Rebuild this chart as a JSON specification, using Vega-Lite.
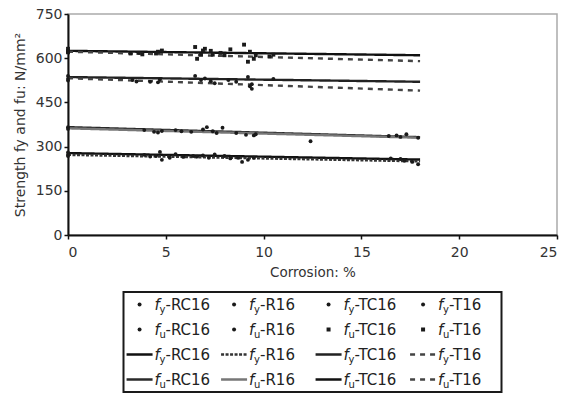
{
  "$schema": "https://vega.github.io/schema/vega-lite/v6.json",
  "padding": {"left": 12, "top": 6, "right": 0, "bottom": 0},
  "background": "white",
  "config": {
    "font": "DejaVu Sans",
    "view": {"stroke": "#aaaaaa", "strokeWidth": 1.5},
    "axis": {"labelColor": "#333333", "titleColor": "#333333", "labelFont": "DejaVu Sans", "titleFont": "DejaVu Sans", "labelFontSize": 14, "titleFontSize": 14, "titleFontWeight": "normal", "domainColor": "#111111", "domainWidth": 2, "tickColor": "#111111", "tickWidth": 1.5, "tickSize": 4, "grid": false}
  },
  "datasets": {
    "points": [
      {"series": "fy-RC16", "corrosion": 0, "strength": 280}, {"series": "fy-RC16", "corrosion": 0, "strength": 268},
      {"series": "fy-RC16", "corrosion": 3.9, "strength": 272}, {"series": "fy-RC16", "corrosion": 4.5, "strength": 268},
      {"series": "fy-RC16", "corrosion": 4.7, "strength": 282}, {"series": "fy-RC16", "corrosion": 4.8, "strength": 255},
      {"series": "fy-RC16", "corrosion": 5.5, "strength": 274}, {"series": "fy-RC16", "corrosion": 5.9, "strength": 265},
      {"series": "fy-RC16", "corrosion": 6.4, "strength": 268}, {"series": "fy-RC16", "corrosion": 6.9, "strength": 270},
      {"series": "fy-RC16", "corrosion": 7.5, "strength": 273}, {"series": "fy-RC16", "corrosion": 8.0, "strength": 268},
      {"series": "fy-RC16", "corrosion": 8.7, "strength": 262}, {"series": "fy-RC16", "corrosion": 8.9, "strength": 248},
      {"series": "fy-RC16", "corrosion": 9.5, "strength": 262}, {"series": "fy-RC16", "corrosion": 16.5, "strength": 260},
      {"series": "fy-RC16", "corrosion": 17.2, "strength": 252}, {"series": "fy-RC16", "corrosion": 17.6, "strength": 248},
      {"series": "fy-RC16", "corrosion": 17.9, "strength": 240},
      {"series": "fy-R16", "corrosion": 0, "strength": 272}, {"series": "fy-R16", "corrosion": 4.2, "strength": 266},
      {"series": "fy-R16", "corrosion": 5.2, "strength": 262}, {"series": "fy-R16", "corrosion": 6.6, "strength": 266},
      {"series": "fy-R16", "corrosion": 7.2, "strength": 262}, {"series": "fy-R16", "corrosion": 8.3, "strength": 260},
      {"series": "fy-R16", "corrosion": 9.2, "strength": 255}, {"series": "fy-R16", "corrosion": 17.0, "strength": 258},
      {"series": "fu-RC16", "corrosion": 0, "strength": 366}, {"series": "fu-RC16", "corrosion": 3.9, "strength": 356},
      {"series": "fu-RC16", "corrosion": 4.4, "strength": 350}, {"series": "fu-RC16", "corrosion": 4.8, "strength": 353},
      {"series": "fu-RC16", "corrosion": 5.5, "strength": 356}, {"series": "fu-RC16", "corrosion": 5.8, "strength": 352},
      {"series": "fu-RC16", "corrosion": 6.9, "strength": 358}, {"series": "fu-RC16", "corrosion": 7.1, "strength": 366},
      {"series": "fu-RC16", "corrosion": 7.4, "strength": 352}, {"series": "fu-RC16", "corrosion": 7.9, "strength": 364},
      {"series": "fu-RC16", "corrosion": 8.6, "strength": 346}, {"series": "fu-RC16", "corrosion": 9.1, "strength": 340},
      {"series": "fu-RC16", "corrosion": 9.5, "strength": 338}, {"series": "fu-RC16", "corrosion": 12.4, "strength": 318},
      {"series": "fu-RC16", "corrosion": 16.8, "strength": 338}, {"series": "fu-RC16", "corrosion": 17.3, "strength": 342},
      {"series": "fu-RC16", "corrosion": 17.9, "strength": 330},
      {"series": "fu-R16", "corrosion": 0, "strength": 360}, {"series": "fu-R16", "corrosion": 4.6, "strength": 348},
      {"series": "fu-R16", "corrosion": 6.3, "strength": 350}, {"series": "fu-R16", "corrosion": 7.6, "strength": 346},
      {"series": "fu-R16", "corrosion": 9.6, "strength": 342}, {"series": "fu-R16", "corrosion": 16.4, "strength": 336},
      {"series": "fu-R16", "corrosion": 17.0, "strength": 333},
      {"series": "fy-TC16", "corrosion": 0, "strength": 540}, {"series": "fy-TC16", "corrosion": 0, "strength": 524},
      {"series": "fy-TC16", "corrosion": 3.3, "strength": 526}, {"series": "fy-TC16", "corrosion": 4.2, "strength": 520},
      {"series": "fy-TC16", "corrosion": 4.7, "strength": 528}, {"series": "fy-TC16", "corrosion": 6.5, "strength": 540},
      {"series": "fy-TC16", "corrosion": 7.0, "strength": 531}, {"series": "fy-TC16", "corrosion": 7.3, "strength": 522},
      {"series": "fy-TC16", "corrosion": 8.2, "strength": 526}, {"series": "fy-TC16", "corrosion": 9.2, "strength": 536},
      {"series": "fy-TC16", "corrosion": 9.4, "strength": 512}, {"series": "fy-TC16", "corrosion": 10.5, "strength": 530},
      {"series": "fy-T16", "corrosion": 0, "strength": 530}, {"series": "fy-T16", "corrosion": 3.5, "strength": 521},
      {"series": "fy-T16", "corrosion": 4.6, "strength": 518}, {"series": "fy-T16", "corrosion": 6.8, "strength": 526},
      {"series": "fy-T16", "corrosion": 7.5, "strength": 515}, {"series": "fy-T16", "corrosion": 8.6, "strength": 520},
      {"series": "fy-T16", "corrosion": 9.3, "strength": 505}, {"series": "fy-T16", "corrosion": 9.4, "strength": 496},
      {"series": "fu-TC16", "corrosion": 0, "strength": 632}, {"series": "fu-TC16", "corrosion": 0, "strength": 620},
      {"series": "fu-TC16", "corrosion": 3.2, "strength": 616}, {"series": "fu-TC16", "corrosion": 3.6, "strength": 618},
      {"series": "fu-TC16", "corrosion": 4.6, "strength": 622}, {"series": "fu-TC16", "corrosion": 4.8, "strength": 626},
      {"series": "fu-TC16", "corrosion": 6.5, "strength": 638}, {"series": "fu-TC16", "corrosion": 6.8, "strength": 612},
      {"series": "fu-TC16", "corrosion": 7.0, "strength": 632}, {"series": "fu-TC16", "corrosion": 7.3, "strength": 625},
      {"series": "fu-TC16", "corrosion": 7.8, "strength": 618}, {"series": "fu-TC16", "corrosion": 8.3, "strength": 630},
      {"series": "fu-TC16", "corrosion": 9.0, "strength": 646}, {"series": "fu-TC16", "corrosion": 9.3, "strength": 622},
      {"series": "fu-TC16", "corrosion": 9.5, "strength": 598}, {"series": "fu-TC16", "corrosion": 10.5, "strength": 612},
      {"series": "fu-T16", "corrosion": 0, "strength": 624}, {"series": "fu-T16", "corrosion": 3.8, "strength": 613},
      {"series": "fu-T16", "corrosion": 4.5, "strength": 616}, {"series": "fu-T16", "corrosion": 6.6, "strength": 598},
      {"series": "fu-T16", "corrosion": 6.9, "strength": 626}, {"series": "fu-T16", "corrosion": 7.4, "strength": 612},
      {"series": "fu-T16", "corrosion": 8.0, "strength": 610}, {"series": "fu-T16", "corrosion": 9.2, "strength": 588},
      {"series": "fu-T16", "corrosion": 9.6, "strength": 610}, {"series": "fu-T16", "corrosion": 10.3, "strength": 606}
    ],
    "lines": [
      {"line": "fy-RC16", "corrosion": 0, "strength": 278}, {"line": "fy-RC16", "corrosion": 18, "strength": 256},
      {"line": "fy-R16", "corrosion": 0, "strength": 272}, {"line": "fy-R16", "corrosion": 18, "strength": 250},
      {"line": "fy-TC16", "corrosion": 0, "strength": 536}, {"line": "fy-TC16", "corrosion": 18, "strength": 520},
      {"line": "fy-T16", "corrosion": 0, "strength": 532}, {"line": "fy-T16", "corrosion": 18, "strength": 490},
      {"line": "fu-RC16", "corrosion": 0, "strength": 366}, {"line": "fu-RC16", "corrosion": 18, "strength": 332},
      {"line": "fu-R16", "corrosion": 0, "strength": 362}, {"line": "fu-R16", "corrosion": 18, "strength": 330},
      {"line": "fu-TC16", "corrosion": 0, "strength": 625}, {"line": "fu-TC16", "corrosion": 18, "strength": 610},
      {"line": "fu-T16", "corrosion": 0, "strength": 622}, {"line": "fu-T16", "corrosion": 18, "strength": 590}
    ],
    "legend": [
      {"kind": "point", "series": "fy-RC16", "col": 0, "row": 0, "sub": "y", "name": "-RC16"},
      {"kind": "point", "series": "fy-R16", "col": 1, "row": 0, "sub": "y", "name": "-R16"},
      {"kind": "point", "series": "fy-TC16", "col": 2, "row": 0, "sub": "y", "name": "-TC16"},
      {"kind": "point", "series": "fy-T16", "col": 3, "row": 0, "sub": "y", "name": "-T16"},
      {"kind": "point", "series": "fu-RC16", "col": 0, "row": 1, "sub": "u", "name": "-RC16"},
      {"kind": "point", "series": "fu-R16", "col": 1, "row": 1, "sub": "u", "name": "-R16"},
      {"kind": "point", "series": "fu-TC16", "col": 2, "row": 1, "sub": "u", "name": "-TC16"},
      {"kind": "point", "series": "fu-T16", "col": 3, "row": 1, "sub": "u", "name": "-T16"},
      {"kind": "line", "line": "fy-RC16", "col": 0, "row": 2, "sub": "y", "name": "-RC16"},
      {"kind": "line", "line": "fy-R16", "col": 1, "row": 2, "sub": "y", "name": "-R16"},
      {"kind": "line", "line": "fy-TC16", "col": 2, "row": 2, "sub": "y", "name": "-TC16"},
      {"kind": "line", "line": "fy-T16", "col": 3, "row": 2, "sub": "y", "name": "-T16"},
      {"kind": "line", "line": "fu-RC16", "col": 0, "row": 3, "sub": "u", "name": "-RC16"},
      {"kind": "line", "line": "fu-R16", "col": 1, "row": 3, "sub": "u", "name": "-R16"},
      {"kind": "line", "line": "fu-TC16", "col": 2, "row": 3, "sub": "u", "name": "-TC16"},
      {"kind": "line", "line": "fu-T16", "col": 3, "row": 3, "sub": "u", "name": "-T16"}
    ]
  },
  "vconcat": [
    {
      "width": 489,
      "height": 221,
      "encoding": {
        "x": {"field": "corrosion", "type": "quantitative", "scale": {"domain": [0, 25], "nice": false}, "axis": {"values": [0, 5, 10, 15, 20, 25], "title": "Corrosion: %", "titleFontSize": 13.5, "labelPadding": 6, "titlePadding": 6}},
        "y": {"field": "strength", "type": "quantitative", "scale": {"domain": [0, 750], "nice": false}, "axis": {"values": [0, 150, 300, 450, 600, 750], "title": "Strength fy and fu: N/mm²", "labelPadding": 2, "titlePadding": 8}}
      },
      "layer": [
        {
          "data": {"name": "lines"},
          "mark": {"type": "line"},
          "encoding": {
            "detail": {"field": "line"},
            "color": {"field": "line", "type": "nominal", "legend": null, "scale": {"domain": ["fy-RC16", "fy-R16", "fy-TC16", "fy-T16", "fu-RC16", "fu-R16", "fu-TC16", "fu-T16"], "range": ["#111111", "#333333", "#222222", "#444444", "#2a2a2a", "#777777", "#111111", "#444444"]}},
            "strokeDash": {"field": "line", "type": "nominal", "legend": null, "scale": {"domain": ["fy-RC16", "fy-R16", "fy-TC16", "fy-T16", "fu-RC16", "fu-R16", "fu-TC16", "fu-T16"], "range": [[1, 0], [3, 1.5], [1, 0], [5, 5], [1, 0], [1, 0], [1, 0], [5, 5]]}},
            "strokeWidth": {"field": "line", "type": "nominal", "legend": null, "scale": {"domain": ["fy-RC16", "fy-R16", "fy-TC16", "fy-T16", "fu-RC16", "fu-R16", "fu-TC16", "fu-T16"], "range": [2.4, 2.4, 1.6, 2, 1.8, 1.4, 2.2, 2]}}
          }
        },
        {
          "data": {"name": "points"},
          "mark": {"type": "point", "filled": true, "color": "#1a1a1a", "opacity": 1, "size": 15},
          "encoding": {
            "shape": {"field": "series", "type": "nominal", "legend": null, "scale": {"domain": ["fy-RC16", "fy-R16", "fy-TC16", "fy-T16", "fu-RC16", "fu-R16", "fu-TC16", "fu-T16"], "range": ["circle", "circle", "circle", "circle", "circle", "circle", "square", "square"]}}
          }
        }
      ]
    },
    {
      "width": 378,
      "height": 100,
      "view": {"stroke": "#1a1a1a", "strokeWidth": 2},
      "data": {"name": "legend"},
      "encoding": {
        "y": {"field": "row", "type": "ordinal", "axis": null, "scale": {"type": "band", "domain": [0, 1, 2, 3], "paddingInner": 0, "paddingOuter": 0}}
      },
      "layer": [
        {
          "transform": [{"filter": "datum.kind === 'point'"}],
          "mark": {"type": "point", "filled": true, "color": "#1a1a1a", "opacity": 1, "size": 16},
          "encoding": {
            "x": {"field": "col", "type": "ordinal", "bandPosition": 0.17, "axis": null, "scale": {"type": "band", "domain": [0, 1, 2, 3], "paddingInner": 0, "paddingOuter": 0}},
            "shape": {"field": "series", "type": "nominal", "legend": null}
          }
        },
        {
          "transform": [{"filter": "datum.kind === 'line'"}],
          "mark": {"type": "point", "filled": false, "opacity": 1, "shape": "M-1,0L1,0", "size": 676},
          "encoding": {
            "x": {"field": "col", "type": "ordinal", "bandPosition": 0.17, "axis": null},
            "color": {"field": "line", "type": "nominal", "legend": null},
            "strokeDash": {"field": "line", "type": "nominal", "legend": null},
            "strokeWidth": {"field": "line", "type": "nominal", "legend": null}
          }
        },
        {
          "mark": {"type": "text", "align": "left", "baseline": "middle", "fontSize": 15, "fontStyle": "italic", "color": "#222222", "dx": 31},
          "encoding": {
            "x": {"field": "col", "type": "ordinal", "bandPosition": 0, "axis": null},
            "text": {"value": "f"}
          }
        },
        {
          "mark": {"type": "text", "align": "left", "baseline": "middle", "fontSize": 10, "color": "#222222", "dx": 36, "dy": 5},
          "encoding": {
            "x": {"field": "col", "type": "ordinal", "bandPosition": 0, "axis": null},
            "text": {"field": "sub"}
          }
        },
        {
          "mark": {"type": "text", "align": "left", "baseline": "middle", "fontSize": 15, "color": "#222222", "dx": 42},
          "encoding": {
            "x": {"field": "col", "type": "ordinal", "bandPosition": 0, "axis": null},
            "text": {"field": "name"}
          }
        }
      ]
    }
  ],
  "bounds": "flush",
  "center": true,
  "spacing": 57
}
